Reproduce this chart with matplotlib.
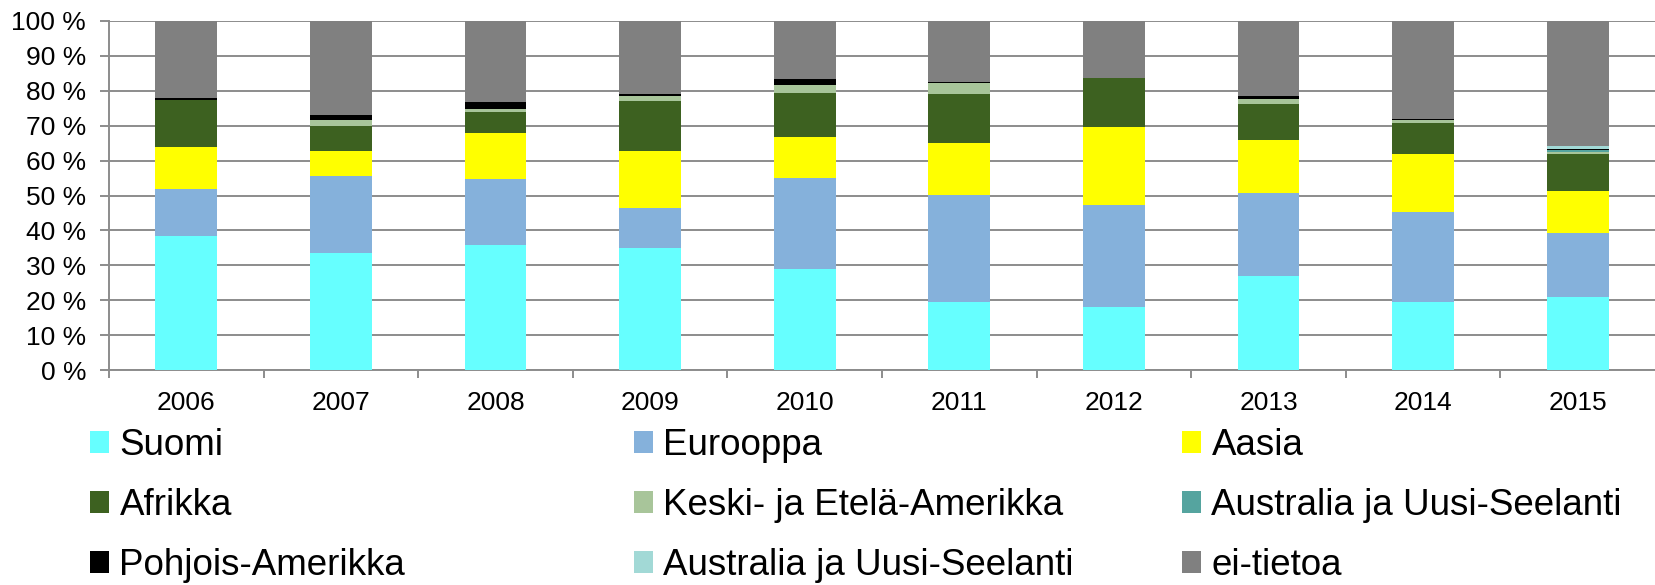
import numpy as np
import matplotlib
matplotlib.use("Agg")
import matplotlib.pyplot as plt
from matplotlib.patches import Patch

plt.rcParams['font.family'] = ['Liberation Sans', 'DejaVu Sans']

years = ["2006", "2007", "2008", "2009", "2010", "2011", "2012", "2013", "2014", "2015"]

# osuudet (%) alhaalta ylos
suomi = [38.3, 33.5, 35.7, 35.0, 29.0, 19.6, 18.1, 26.9, 19.6, 20.8]
eurooppa = [13.7, 22.1, 19.0, 11.5, 26.0, 30.6, 29.3, 23.9, 25.7, 18.5]
aasia = [12.0, 7.2, 13.1, 16.3, 11.8, 14.8, 22.3, 15.1, 16.7, 12.1]
afrikka = [13.5, 7.1, 6.2, 14.4, 12.6, 14.1, 14.1, 10.4, 8.8, 10.4]
keski_etela = [0.0, 1.7, 0.8, 1.4, 2.4, 3.2, 0.0, 1.4, 0.7, 0.6]
australia1 = [0.0, 0.0, 0.0, 0.0, 0.0, 0.0, 0.0, 0.0, 0.0, 0.6]
pohjois = [0.3, 1.5, 2.1, 0.4, 1.7, 0.3, 0.0, 0.7, 0.3, 0.4]
australia2 = [0.0, 0.0, 0.0, 0.0, 0.0, 0.0, 0.0, 0.0, 0.0, 0.9]
ei_tietoa = [22.2, 26.9, 23.1, 21.0, 16.5, 17.4, 16.2, 21.6, 28.2, 35.7]

series = [
    ("Suomi", suomi, "#66FFFF"),
    ("Eurooppa", eurooppa, "#85B1DB"),
    ("Aasia", aasia, "#FFFF00"),
    ("Afrikka", afrikka, "#3D6120"),
    ("Keski- ja Etelä-Amerikka", keski_etela, "#A8C59A"),
    ("Australia ja Uusi-Seelanti", australia1, "#55A49F"),
    ("Pohjois-Amerikka", pohjois, "#000000"),
    ("Australia ja Uusi-Seelanti", australia2, "#A2D9D6"),
    ("ei-tietoa", ei_tietoa, "#808080"),
]

grid_col = "#8C8C8C"

fig = plt.figure(figsize=(16.55, 5.85), dpi=100)
ax = fig.add_axes([109 / 1655, 1 - 370 / 585, 1 - 109 / 1655, 349 / 585])

x = np.arange(len(years))
bottom = np.zeros(len(years))
handles = []
for name, vals, col in series:
    vals = np.array(vals)
    ax.bar(x, vals, width=0.4, bottom=bottom, color=col, linewidth=0, zorder=3)
    bottom += vals
    handles.append(Patch(facecolor=col, edgecolor="none", label=name))

ax.set_xlim(-0.5, len(years) - 0.5)
ax.set_ylim(0, 100)
ax.set_yticks(np.arange(0, 101, 10))
ax.set_yticklabels([f"{v} %" for v in range(0, 101, 10)])
ax.yaxis.grid(True, color=grid_col, linewidth=1.4, zorder=0)

ax.set_xticks(x)
ax.set_xticklabels(years)
ax.set_xticks(np.arange(-0.5, len(years) - 0.5, 1), minor=True)
ax.tick_params(axis="x", which="major", length=0, pad=15, labelsize=19)
ax.tick_params(axis="x", which="minor", length=6, width=1.4, color=grid_col, direction="out")
ax.tick_params(axis="y", length=6.5, width=1.4, color=grid_col, labelsize=19, pad=10)

for s in ["top", "right"]:
    ax.spines[s].set_visible(False)
for s in ["left", "bottom"]:
    ax.spines[s].set_color(grid_col)
    ax.spines[s].set_linewidth(1.4)

# selite kolmessa sarakkeessa
cols = [[0, 3, 6], [1, 4, 7], [2, 5, 8]]
col_x = [90, 634, 1182]
for cx, idx in zip(col_x, cols):
    fig.legend(handles=[handles[i] for i in idx], loc="upper left",
               bbox_to_anchor=(cx / 1655, 1 - 428 / 585), frameon=False,
               fontsize=26.5, handlelength=0.52, handleheight=0.52,
               handletextpad=0.28, labelspacing=0.68, borderpad=0, borderaxespad=0)

fig.savefig("out.png", dpi=100)
